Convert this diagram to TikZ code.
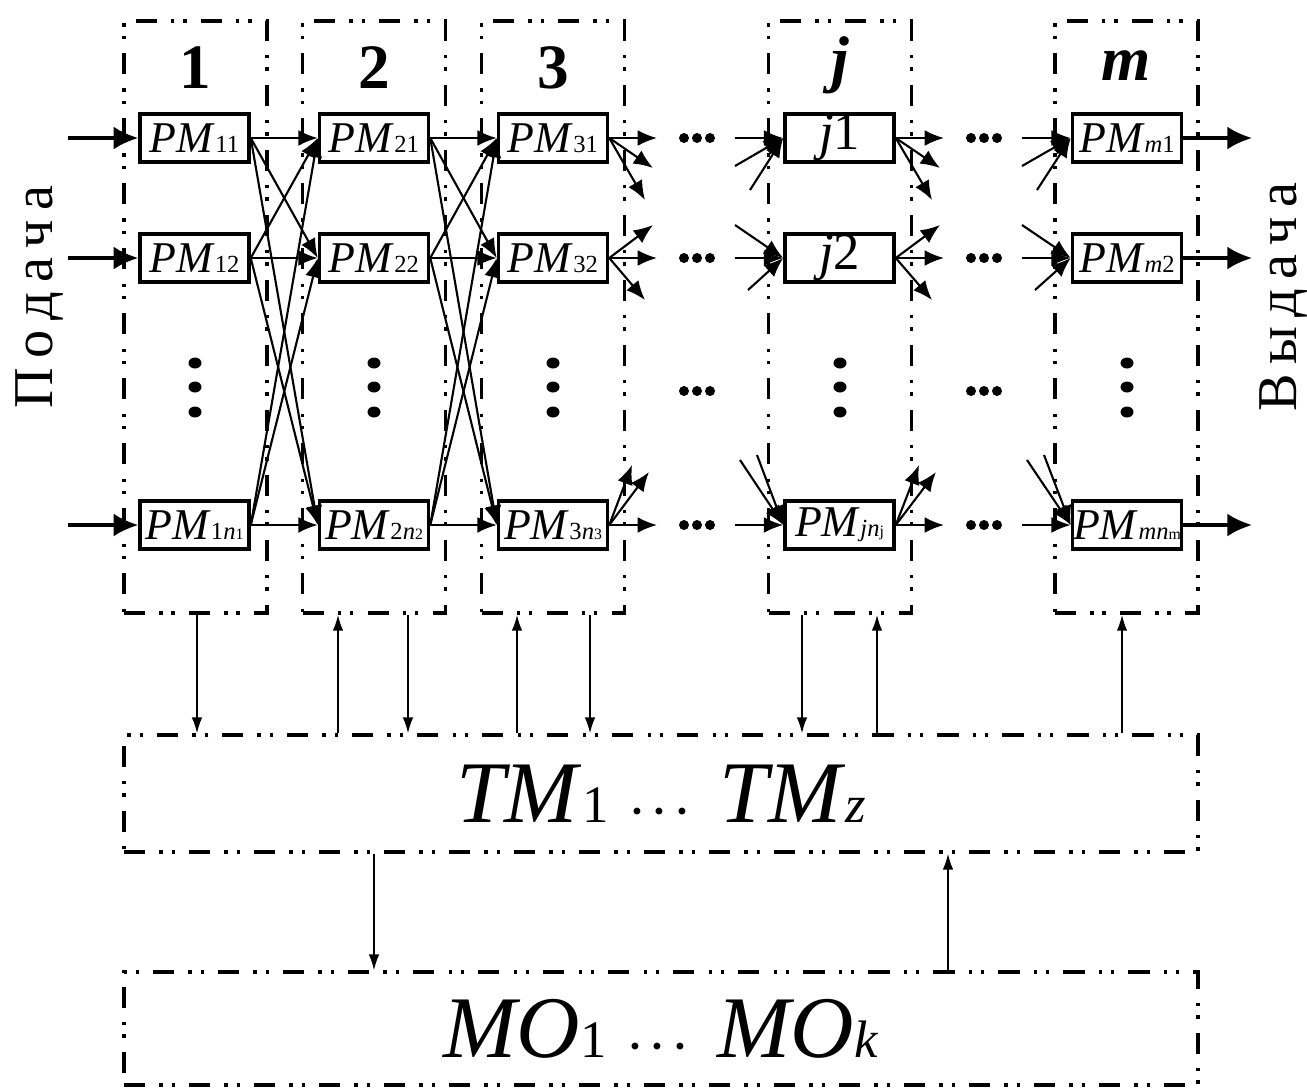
\documentclass[tikz,border=0pt]{standalone}
\usepackage{amsmath}
\usepackage{fontspec}
\setmainfont{Liberation Serif}
\usetikzlibrary{arrows.meta,shapes}
\tikzstyle{pmbox}=[draw,line width=2pt,minimum width=2.18cm,minimum height=0.96cm,inner sep=0pt,font=\fontsize{25}{25}\selectfont]
\tikzstyle{frame}=[draw,line width=2.2pt,dash pattern=on 12pt off 8pt on 2pt off 5pt on 2pt off 8pt]
\tikzstyle{feed}=[draw,line width=1.8pt,-{Latex[length=14pt,width=13pt]}]
\tikzstyle{link}=[draw,line width=1.2pt,-{Latex[length=11pt,width=9pt]}]
\tikzstyle{ctrl}=[draw,line width=0.9pt,-{Latex[length=9pt,width=6pt]}]
\tikzstyle{title}=[font=\fontsize{36}{36}\selectfont\bfseries,anchor=base]
\newcommand{\pmsub}[1]{{\fontsize{14}{14}\selectfont #1}}
\newcommand{\pmtiny}[1]{{\fontsize{9}{9}\selectfont #1}}
\newcommand{\bigsub}[1]{{\fontsize{30}{30}\selectfont #1}}

\begin{document}
\begin{tikzpicture}[x=0.02cm,y=-0.02cm]
    \useasboundingbox (0,0) rectangle (1307,1090);

    % Column frames and their numbers
    \foreach \x/\col in {195.5/1, 374/2, 553/3, 840/j, 1126.5/m}
        \node[frame,minimum width=2.86cm,minimum height=11.84cm] (col\col) at (\x,317) {};
    \foreach \x/\col in {195.5/1, 374/2, 553/3}
        \node[title] (num\col) at (\x,88) {\col};
    \node[title] (numj) at (840,80) {\textit{j}};
    \node[title] (numm) at (1126.5,80) {\textit{m}};

    % PM blocks of the first three columns
    \foreach \x/\col in {194.5/1, 374/2, 553/3}{
        \node[pmbox] (c\col r1) at (\x,138) {\textit{PM}\pmsub{\col1}};
        \node[pmbox] (c\col r2) at (\x,258) {\textit{PM}\pmsub{\col2}};
        \node[pmbox] (c\col rn) at (\x,525) {\textit{PM}\pmsub{\col\textit{n}}\pmtiny{\col}};
    }
    \node[pmbox,font=\fontsize{30}{30}\selectfont] (cjr1) at (839.5,138) {\textit{j}1};
    \node[pmbox,font=\fontsize{30}{30}\selectfont] (cjr2) at (839.5,258) {\textit{j}2};
    \node[pmbox] (cjrn) at (839.5,525) {\textit{PM}\pmsub{\textit{jn}}\pmtiny{j}};
    \node[pmbox] (cmr1) at (1127,138) {\textit{PM}\pmsub{\textit{m}1}};
    \node[pmbox] (cmr2) at (1127,258) {\textit{PM}\pmsub{\textit{m}2}};
    \node[pmbox] (cmrn) at (1127,525) {\textit{PM}\pmsub{\textit{mn}}\pmtiny{m}};

    % vertical dots inside each column
    \foreach \x in {195,374,553,840,1127}
        \foreach \y in {363,387,412}
            \fill (\x,\y) ellipse (6.5 and 5.5);

    % inputs and outputs
    \foreach \r/\y in {r1/138, r2/258, rn/525}{
        \coordinate (in\r) at (68,\y);
        \coordinate (out\r) at (1252,\y);
        \path[feed] (in\r) -- (c1\r.west);
        \path[feed] (cm\r.east) -- (out\r);
    }

    % every block of one column feeds every block of the next
    \foreach \a/\b in {1/2, 2/3}
        \foreach \s in {r1,r2,rn}
            \foreach \t in {r1,r2,rn}
                \path[link] (c\a\s.east) -- (c\b\t.west);

    % fan-out and fan-in across the gaps
    \foreach \from/\to/\dx in {3/j/0, j/m/287}{
        \foreach \r/\k/\px/\py in {r1/a/657/138, r1/b/653/168, r1/c/645/200, r2/a/653/225, r2/b/657/258, r2/c/645/300, rn/a/632/465, rn/b/649/472, rn/c/657/525}{
            \coordinate (o\from\r\k) at ({\px+\dx},\py);
            \path[link] (c\from\r.east) -- (o\from\r\k);
        }
        \foreach \r/\k/\px/\py in {r1/a/735/138, r1/b/735/166, r1/c/750/190, r2/a/735/225, r2/b/735/258, r2/c/748/290, rn/a/740/460, rn/b/757/455, rn/c/735/525}{
            \coordinate (i\to\r\k) at ({\px+\dx},\py);
            \path[link] (i\to\r\k) -- (c\to\r.west);
        }
        \foreach \y in {138,258,391,525}
            \foreach \d in {-13,0,13}
                \fill ({697+\dx+\d},\y) circle (5);
    }

    % control level
    \node[frame,line width=2pt,minimum width=21.48cm,minimum height=2.34cm,font=\fontsize{50}{50}\selectfont] (tm) at (661,793.5)
        {\textit{TM}\bigsub{1} $\boldsymbol{\cdots}$ \textit{TM}\bigsub{\textit{z}}};
    \node[frame,line width=2pt,minimum width=21.48cm,minimum height=2.26cm,font=\fontsize{50}{50}\selectfont] (mo) at (661,1028.5)
        {\textit{MO}\bigsub{1} $\boldsymbol{\cdots}$ \textit{MO}\bigsub{\textit{k}}};

    \foreach \col/\dx in {1/1.5, 2/34, 3/37, j/-38}{
        \path (col\col.south) ++(\dx,0) coordinate (dn\col);
        \path[ctrl] (dn\col) -- (dn\col |- tm.north);
    }
    \foreach \col/\dx in {2/-36, 3/-36, j/37, m/-4.5}{
        \path (col\col.south) ++(\dx,0) coordinate (up\col);
        \path[ctrl] (up\col |- tm.north) -- (up\col);
    }
    \path (tm.south) ++(-287,0) coordinate (tmdn);
    \path (tm.south) ++(287,0) coordinate (tmup);
    \path[ctrl] (tmdn) -- (tmdn |- mo.north);
    \path[ctrl] (tmup |- mo.north) -- (tmup);

    % side captions
    \node[rotate=90,font=\fontsize{32}{32}\selectfont] (feedin) at (40,297) {П\,о\,д\,а\,ч\,а};
    \node[rotate=90,font=\fontsize{32}{32}\selectfont] (feedout) at (1284,297) {В\,ы\,д\,а\,ч\,а};
\end{tikzpicture}
\end{document}
